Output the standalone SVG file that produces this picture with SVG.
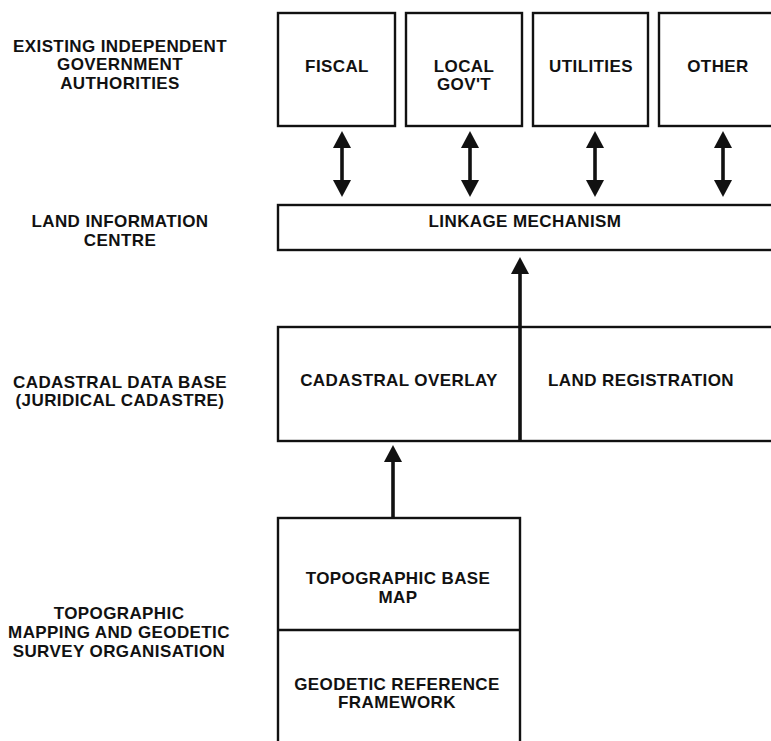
<svg xmlns="http://www.w3.org/2000/svg" width="771" height="741" viewBox="0 0 771 741">
  <style>
    .box { fill: #fff; stroke: #111; stroke-width: 2.4; }
    .div { stroke: #111; stroke-width: 2.4; fill: none; }
    .lbl { font-family: "Liberation Sans", Arial, sans-serif; font-weight: bold; font-size: 17px; letter-spacing: 0.4px; fill: #111; text-anchor: middle; }
    .link { stroke: #111; stroke-width: 3.6; fill: none; }
  </style>
  <defs>
    <marker id="head" viewBox="0 0 17 18" markerUnits="userSpaceOnUse" markerWidth="17" markerHeight="18" refX="1" refY="9" orient="auto-start-reverse">
      <path d="M0,0 L17,9 L0,18 Z" fill="#111"/>
    </marker>
  </defs>
  <rect width="771" height="741" fill="#fff"/>

  <!-- tier labels, left column -->
  <g id="tier-labels">
    <text class="lbl" x="120" y="52">EXISTING INDEPENDENT</text>
    <text class="lbl" x="120" y="70">GOVERNMENT</text>
    <text class="lbl" x="120" y="89">AUTHORITIES</text>
    <text class="lbl" x="120" y="227">LAND INFORMATION</text>
    <text class="lbl" x="120" y="246">CENTRE</text>
    <text class="lbl" x="120" y="388">CADASTRAL DATA BASE</text>
    <text class="lbl" x="120" y="406">(JURIDICAL CADASTRE)</text>
    <text class="lbl" x="119" y="619">TOPOGRAPHIC</text>
    <text class="lbl" x="119" y="638">MAPPING AND GEODETIC</text>
    <text class="lbl" x="119" y="657">SURVEY ORGANISATION</text>
  </g>

  <!-- authorities -->
  <g id="fiscal">
    <rect class="box" x="278" y="13" width="117" height="113"/>
    <text class="lbl" x="337" y="72">FISCAL</text>
  </g>
  <g id="local-govt">
    <rect class="box" x="406" y="13" width="116" height="113"/>
    <text class="lbl" x="464" y="72">LOCAL</text>
    <text class="lbl" x="464" y="90">GOV'T</text>
  </g>
  <g id="utilities">
    <rect class="box" x="533" y="13" width="115" height="113"/>
    <text class="lbl" x="591" y="72">UTILITIES</text>
  </g>
  <g id="other">
    <rect class="box" x="659" y="13" width="130" height="113"/>
    <text class="lbl" x="718" y="72">OTHER</text>
  </g>

  <!-- land information centre -->
  <g id="linkage">
    <rect class="box" x="278" y="205" width="510" height="45"/>
    <text class="lbl" x="525" y="227">LINKAGE MECHANISM</text>
  </g>

  <!-- cadastral data base -->
  <g id="cadastral-overlay">
    <rect class="box" x="278" y="327" width="510" height="114"/>
    <text class="lbl" x="399" y="386">CADASTRAL OVERLAY</text>
  </g>
  <g id="land-registration">
    <text class="lbl" x="641" y="386">LAND REGISTRATION</text>
  </g>

  <!-- topographic base -->
  <g id="topographic-base-map">
    <rect class="box" x="278" y="518" width="242" height="240"/>
    <text class="lbl" x="398" y="584">TOPOGRAPHIC BASE</text>
    <text class="lbl" x="398" y="603">MAP</text>
  </g>
  <g id="geodetic-framework">
    <line class="div" x1="278" y1="630" x2="520" y2="630"/>
    <text class="lbl" x="397" y="690">GEODETIC REFERENCE</text>
    <text class="lbl" x="397" y="708">FRAMEWORK</text>
  </g>

  <!-- connectors -->
  <g id="connectors">
    <line class="link" x1="342" y1="147" x2="342" y2="181" marker-start="url(#head)" marker-end="url(#head)"/>
    <line class="link" x1="470" y1="147" x2="470" y2="181" marker-start="url(#head)" marker-end="url(#head)"/>
    <line class="link" x1="595" y1="147" x2="595" y2="181" marker-start="url(#head)" marker-end="url(#head)"/>
    <line class="link" x1="723" y1="147" x2="723" y2="181" marker-start="url(#head)" marker-end="url(#head)"/>
    <line class="link" x1="520" y1="441" x2="520" y2="273" marker-end="url(#head)"/>
    <line class="link" x1="393" y1="518" x2="393" y2="461" marker-end="url(#head)"/>
  </g>
</svg>
